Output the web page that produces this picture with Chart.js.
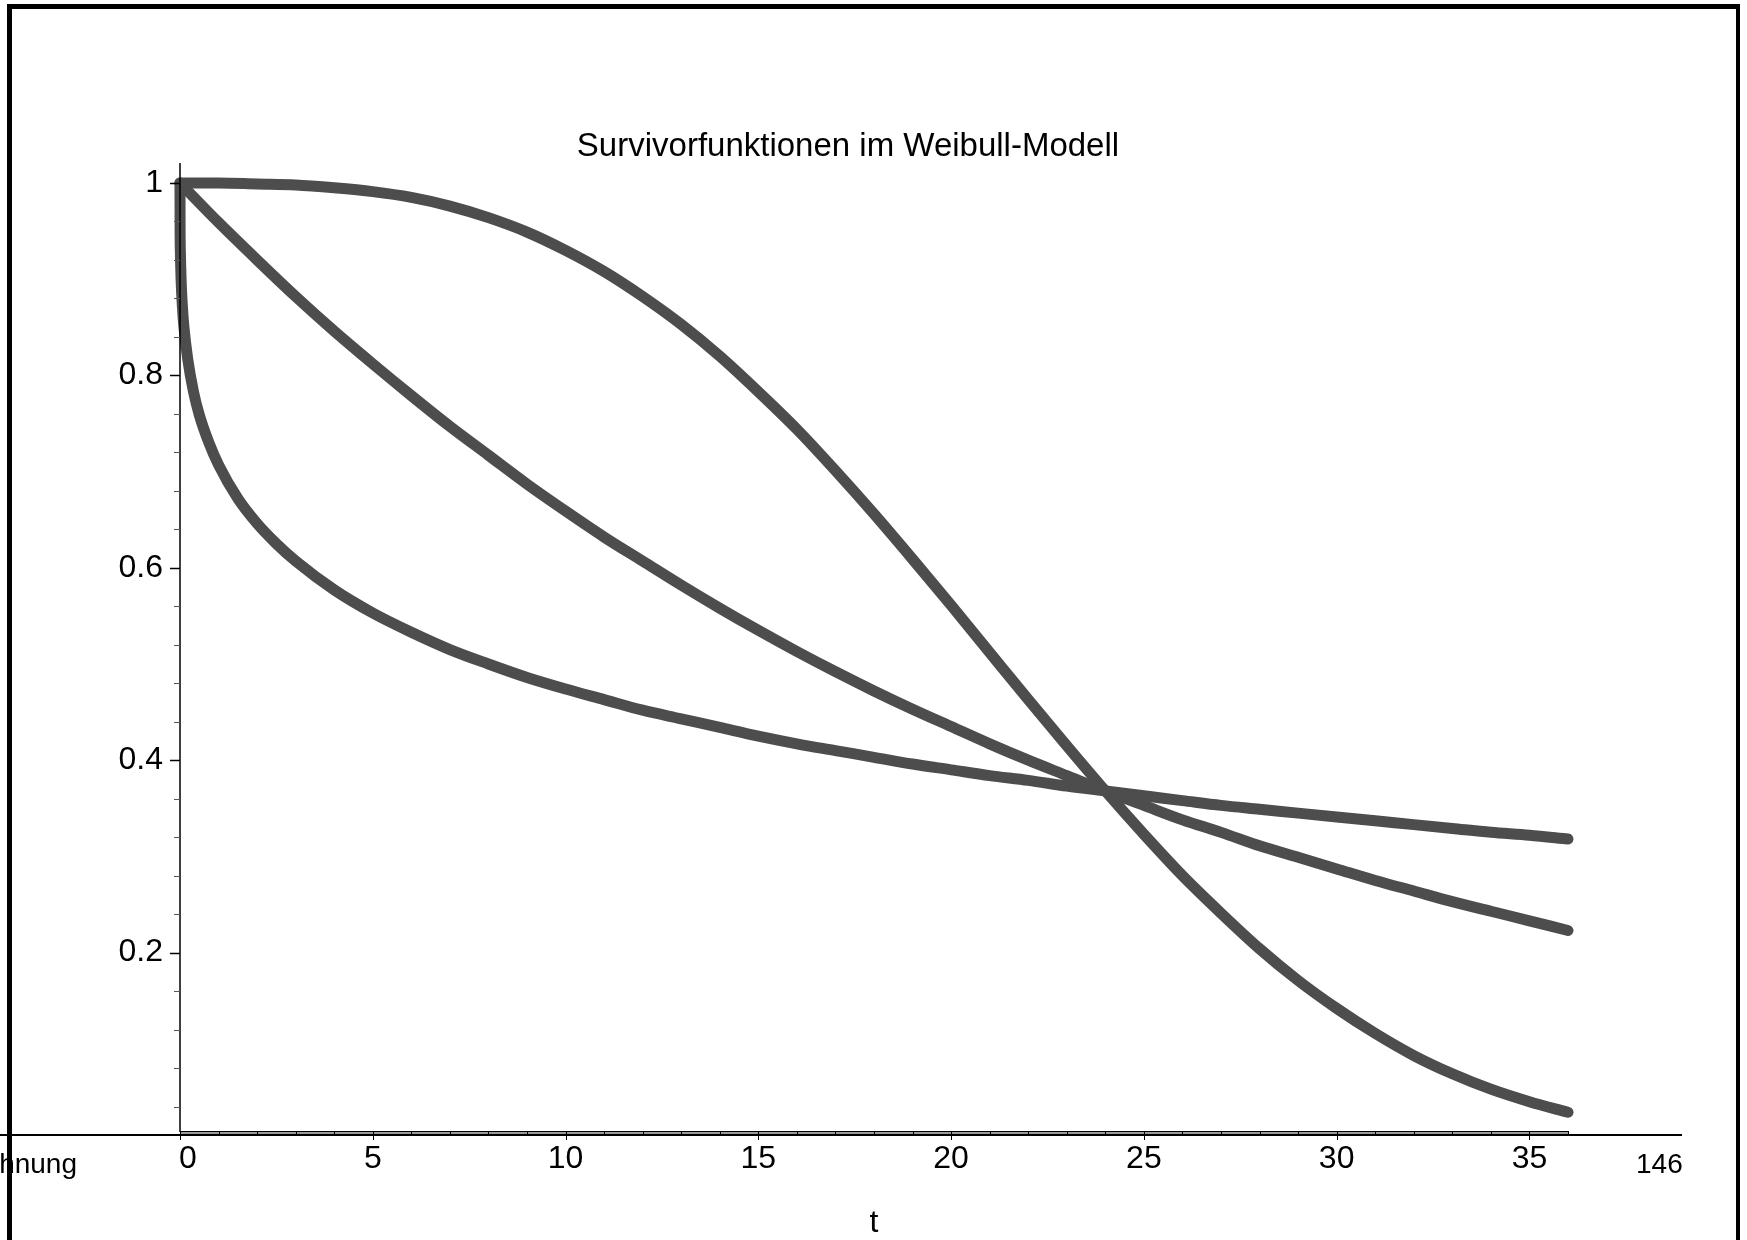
<!DOCTYPE html>
<html>
<head>
<meta charset="utf-8">
<script src="https://cdn.jsdelivr.net/npm/chart.js@4.4.1/dist/chart.umd.min.js"></script>
<style>
  html, body { margin: 0; padding: 0; background: #fff; }
  body { width: 1747px; height: 1240px; position: relative; overflow: hidden; }
  #chart { position: absolute; left: 0; top: 0; }
  .frame { position: absolute; left: 7px; top: 4px; width: 1724px; height: 1300px;
           border-top: 5px solid #000; border-left: 5px solid #000; border-right: 4px solid #000; }
  .rule { position: absolute; left: 0; top: 1134px; width: 1682px; height: 2px; background: #000; }
  .foot { position: absolute; font-family: "Liberation Sans", Arial, sans-serif; font-size: 28px; color: #000; line-height: 1; }
</style>
</head>
<body>
<canvas id="chart" width="1747" height="1240"></canvas>
<div class="frame"></div>
<div class="rule"></div>
<div class="foot" style="right: 1670px; top: 1150px;">Rechnung</div>
<div class="foot" style="left: 1636px; top: 1150px;">146</div>
<script>
const chartTitle = 'Survivorfunktionen im Weibull-Modell';
const axisTitle = 't';

// shape < 1 (steep drop at the start)
const tLow = [0, 0.002, 0.01, 0.03, 0.06, 0.1, 0.2, 0.35, 0.5, 0.75, 1, 1.5, 2, 2.5, 3, 4, 5, 6, 7, 8, 9, 10,
  11, 12, 13, 14, 15, 16, 17, 18, 19, 20, 21, 22, 23, 24, 25, 26, 27, 28, 29, 30, 31, 32, 33, 34, 35, 36];
const sLow = [1.000, 0.957, 0.928, 0.898, 0.873, 0.851, 0.817, 0.783, 0.759, 0.730, 0.707, 0.672, 0.646, 0.625,
  0.607, 0.577, 0.553, 0.533, 0.515, 0.500, 0.486, 0.474, 0.463, 0.452, 0.443, 0.434, 0.425, 0.417, 0.410,
  0.403, 0.396, 0.390, 0.384, 0.379, 0.373, 0.368, 0.363, 0.358, 0.353, 0.349, 0.345, 0.341, 0.337, 0.333,
  0.329, 0.325, 0.322, 0.318];

// shape = 1 and shape > 1, read at whole t
const tGrid = [0, 1, 2, 3, 4, 5, 6, 7, 8, 9, 10, 11, 12, 13, 14, 15, 16, 17, 18, 19, 20, 21, 22, 23, 24,
  25, 26, 27, 28, 29, 30, 31, 32, 33, 34, 35, 36];
const sMid = [1.000, 0.959, 0.920, 0.882, 0.846, 0.812, 0.779, 0.747, 0.717, 0.687, 0.659, 0.632, 0.607,
  0.582, 0.558, 0.535, 0.513, 0.492, 0.472, 0.453, 0.435, 0.417, 0.400, 0.384, 0.368, 0.353, 0.338, 0.325,
  0.311, 0.299, 0.287, 0.275, 0.264, 0.253, 0.243, 0.233, 0.223];
const sHigh = [1.000, 1.000, 0.999, 0.998, 0.995, 0.991, 0.985, 0.976, 0.964, 0.949, 0.930, 0.908, 0.882,
  0.853, 0.820, 0.783, 0.744, 0.701, 0.656, 0.609, 0.561, 0.512, 0.463, 0.415, 0.368, 0.323, 0.280, 0.241,
  0.204, 0.171, 0.142, 0.116, 0.093, 0.074, 0.058, 0.045, 0.034];

const xTickValues = [0, 5, 10, 15, 20, 25, 30, 35];
const xTickLabels = ['0', '5', '10', '15', '20', '25', '30', '35'];
const yTickValues = [0.2, 0.4, 0.6, 0.8, 1];
const yTickLabels = ['0.2', '0.4', '0.6', '0.8', '1'];

const curveColor = '#4d4d4d';
const font = '"Liberation Sans", Arial, sans-serif';

function toPoints(ts, ss) {
  return ts.map(function (t, i) { return { x: t, y: ss[i] }; });
}

function curve(ts, ss) {
  return {
    data: toPoints(ts, ss),
    borderColor: curveColor,
    borderWidth: 11,
    borderCapStyle: 'round',
    borderJoinStyle: 'round',
    pointRadius: 0,
    cubicInterpolationMode: 'monotone',
    clip: false
  };
}

/* axes in Maple style: thin y axis with ticks on the left, banded x axis */
const mapleAxes = {
  id: 'mapleAxes',
  afterDatasetsDraw: function (chart) {
    const ctx = chart.ctx;
    const area = chart.chartArea;
    const xs = chart.scales.x;
    const ys = chart.scales.y;
    ctx.save();

    // x axis band
    ctx.fillStyle = '#9a9a9a';
    ctx.fillRect(area.left, area.bottom, area.right - area.left, 3);
    ctx.strokeStyle = '#000';
    ctx.lineWidth = 1;
    ctx.beginPath();
    ctx.moveTo(area.left, area.bottom - 0.5);
    ctx.lineTo(area.right, area.bottom - 0.5);
    ctx.stroke();
    for (let t = 0; t <= 36; t++) {
      const px = Math.round(xs.getPixelForValue(t)) + 0.5;
      ctx.beginPath();
      ctx.moveTo(px, area.bottom - 1);
      ctx.lineTo(px, area.bottom + (t % 5 === 0 ? 8 : 3));
      ctx.stroke();
    }

    // y axis
    ctx.lineWidth = 1.5;
    ctx.beginPath();
    ctx.moveTo(area.left, area.top);
    ctx.lineTo(area.left, area.bottom);
    ctx.stroke();
    for (let k = 1; k <= 25; k++) {
      const v = k * 0.04;
      const py = Math.round(ys.getPixelForValue(v)) + 0.5;
      const major = k % 5 === 0;
      ctx.strokeStyle = major ? '#000' : '#555';
      ctx.lineWidth = major ? 1.5 : 1;
      ctx.beginPath();
      ctx.moveTo(area.left - (major ? 10 : 6), py);
      ctx.lineTo(area.left, py);
      ctx.stroke();
    }
    ctx.restore();
  },
  afterDraw: function (chart) {
    const ctx = chart.ctx;
    ctx.save();
    ctx.fillStyle = '#000';
    ctx.font = '33px ' + font;
    ctx.textAlign = 'center';
    ctx.textBaseline = 'alphabetic';
    ctx.fillText(chartTitle, 848, 156);
    ctx.restore();
  }
};

const ctx = document.getElementById('chart').getContext('2d');

// eslint-disable-next-line no-undef
const chart = new Chart(ctx, {
  type: 'line',
  data: {
    datasets: [curve(tLow, sLow), curve(tGrid, sMid), curve(tGrid, sHigh)]
  },
  options: {
    responsive: false,
    animation: false,
    events: [],
    layout: { padding: { left: 0, right: 179, top: 163, bottom: 0 } },
    plugins: {
      legend: { display: false },
      tooltip: { enabled: false },
      title: { display: false }
    },
    scales: {
      x: {
        type: 'linear',
        min: 0,
        max: 36,
        grid: { display: false, drawTicks: false },
        border: { display: false },
        afterBuildTicks: function (scale) {
          scale.ticks = xTickValues.map(function (v) { return { value: v }; });
        },
        afterFit: function (scale) { scale.height = 108; },
        ticks: {
          autoSkip: false,
          maxRotation: 0,
          padding: 8,
          color: '#000',
          font: { family: font, size: 32 },
          callback: function (value, index) {
            // Maple nudges the 0 away from the y axis
            return index === 0 ? '\u2002' + xTickLabels[index] : xTickLabels[index];
          }
        },
        title: {
          display: true,
          text: axisTitle,
          color: '#000',
          font: { family: font, size: 32, lineHeight: 1 },
          padding: { top: 0, bottom: 1 }
        }
      },
      y: {
        type: 'linear',
        min: 0.0135,
        max: 1.0208,
        grid: { display: false, drawTicks: false },
        border: { display: false },
        afterBuildTicks: function (scale) {
          scale.ticks = yTickValues.map(function (v) { return { value: v }; });
        },
        afterFit: function (scale) { scale.width = 180; },
        ticks: {
          autoSkip: false,
          padding: 17,
          color: '#000',
          font: { family: font, size: 32 },
          callback: function (value, index) { return yTickLabels[index]; }
        }
      }
    }
  },
  plugins: [mapleAxes]
});
</script>
</body>
</html>
